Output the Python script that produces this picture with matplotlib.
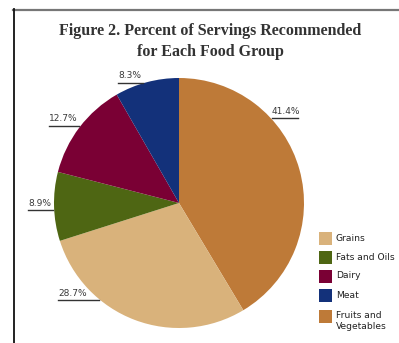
import matplotlib
matplotlib.use("Agg")
import matplotlib.pyplot as plt
from matplotlib.patches import Rectangle
from matplotlib.lines import Line2D

# Data (legend order)
categories = ["Grains", "Fats and Oils", "Dairy", "Meat", "Fruits and\nVegetables"]
percents = [28.7, 8.9, 12.7, 8.3, 41.4]
colors = ["#D9B27B", "#4E6613", "#7A0034", "#13317A", "#BE7A38"]
label_texts = ["28.7%", "8.9%", "12.7%", "8.3%", "41.4%"]

W, H = 399, 343
fig = plt.figure(figsize=(W / 100, H / 100), dpi=100)

# pie order: start with Fruits at top, clockwise
order = [4, 0, 1, 2, 3]
cx, cy, r = 179, 203, 125
ax = fig.add_axes([(cx - r) / W, (H - cy - r) / H, 2 * r / W, 2 * r / H])
ax.pie([percents[i] for i in order], colors=[colors[i] for i in order],
       startangle=90, counterclock=False, radius=1.0,
       wedgeprops=dict(linewidth=0))
ax.set_xlim(-1, 1)
ax.set_ylim(-1, 1)
ax.set_aspect("auto")
ax.axis("off")

# label layout (pixel positions: text left x, text center y, underline end x)
label_layout = {
    "41.4%": (272, 111, 298),
    "8.3%": (118, 76, 143),
    "12.7%": (49, 119, 79),
    "8.9%": (28, 203, 53),
    "28.7%": (58, 293, 99),
}
for t in label_texts:
    lx, ly, ex = label_layout[t]
    fig.text(lx / W, 1 - ly / H, t, fontsize=6.5, color="#3a3a3a",
             ha="left", va="center", family="DejaVu Sans")
    fig.add_artist(Line2D([lx / W, ex / W], [1 - (ly + 6.5) / H] * 2,
                          color="#333333", lw=1.0))

# legend (manual)
leg_y = [238.5, 257, 276, 295.5, 316]
for i, cat in enumerate(categories):
    yy = leg_y[i]
    fig.add_artist(Rectangle((319 / W, 1 - (yy + 6.5) / H), 13 / W, 13 / H,
                             facecolor=colors[i], edgecolor="none",
                             transform=fig.transFigure))
    if "\n" in cat:
        fig.text(336 / W, 1 - (yy + 5) / H, cat, fontsize=6.6, color="#222222",
                 ha="left", va="center", linespacing=1.15, family="DejaVu Sans")
    else:
        fig.text(336 / W, 1 - yy / H, cat, fontsize=6.6, color="#222222",
                 ha="left", va="center", family="DejaVu Sans")

# title
fig.text(210.5 / W, 1 - 31 / H, "Figure 2. Percent of Servings Recommended",
         fontsize=11.5, fontweight="bold", family="Liberation Serif",
         color="#333333", ha="center", va="center")
fig.text(210 / W, 1 - 51.5 / H, "for Each Food Group",
         fontsize=11.5, fontweight="bold", family="Liberation Serif",
         color="#333333", ha="center", va="center")

# frame lines
fig.add_artist(Line2D([13 / W, 1], [1 - 9.5 / H] * 2, color="#777777", lw=1.6))
fig.add_artist(Line2D([13.5 / W] * 2, [0, 1 - 9 / H], color="#111111", lw=1.3))

fig.savefig("out.png", dpi=100, facecolor="white")
